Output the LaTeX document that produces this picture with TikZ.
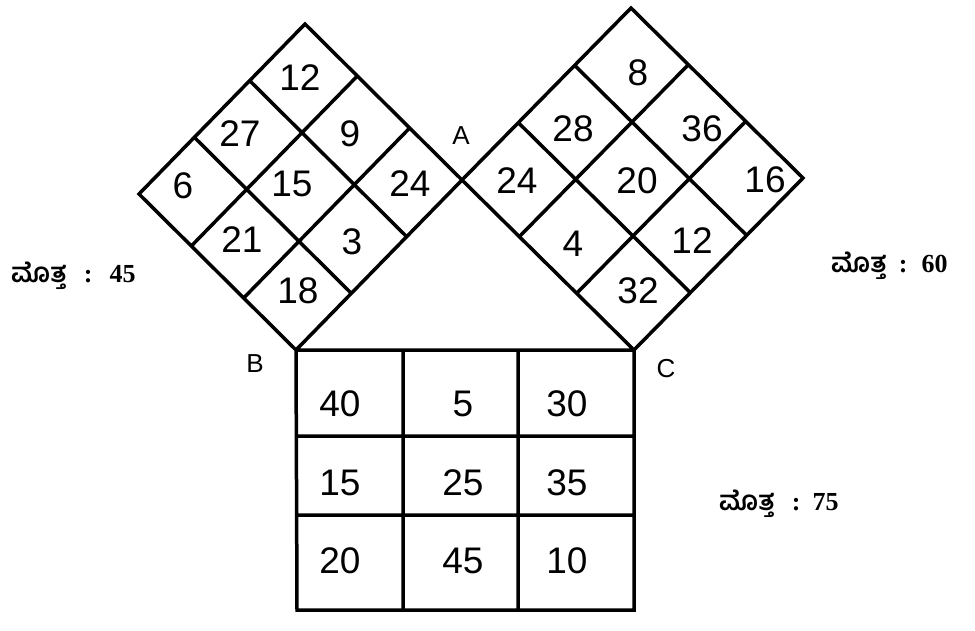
\documentclass[tikz,border=0pt]{standalone}
\usepackage{fontspec}
\setmainfont{Liberation Serif}
\setsansfont{Liberation Sans}
\newfontfamily\kannadafont[Script=Kannada]{Hind Mysuru}
\usetikzlibrary{calc}

\begin{document}
\begin{tikzpicture}[x=1pt, y=-1pt, line width=3.5pt,
    cell/.style={font=\sffamily\fontsize{37}{42}\selectfont, text height=26pt, text depth=0pt},
    vertex/.style={font=\sffamily\fontsize{26}{30}\selectfont},
    total/.style={anchor=base west, font=\bfseries\fontsize{26}{30}\selectfont}]
\useasboundingbox (0,0) rectangle (975,630);
% triangle and the corners of the three squares
\coordinate (A) at (462,180);
\coordinate (B) at (296,350);
\coordinate (C) at (634,350);
\coordinate (T1) at (305,24);
\coordinate (L1) at (139,194);
\coordinate (T2) at (631,8);
\coordinate (R2) at (803,178);
\coordinate (D1) at (297,610);
\coordinate (D2) at (634,610);
\draw
(T1) -- (A) -- (B) -- (L1) -- cycle
($(T1)!1/3!(A)$) -- ($(L1)!1/3!(B)$)
($(T1)!2/3!(A)$) -- ($(L1)!2/3!(B)$)
($(T1)!1/3!(L1)$) -- ($(A)!1/3!(B)$)
($(T1)!2/3!(L1)$) -- ($(A)!2/3!(B)$)
(T2) -- (R2) -- (C) -- (A) -- cycle
($(T2)!1/3!(R2)$) -- ($(A)!1/3!(C)$)
($(T2)!2/3!(R2)$) -- ($(A)!2/3!(C)$)
($(T2)!1/3!(A)$) -- ($(R2)!1/3!(C)$)
($(T2)!2/3!(A)$) -- ($(R2)!2/3!(C)$)
(B) -- (C) -- (D2) -- (D1) -- cycle
(403,350) -- (403,610)
(518,350) -- (518,610)
(296,436) -- (634,436)
(296,515) -- (634,515);
% square on AB
\node[cell] (ab1) at (300,77) {12};
\node[cell] (ab2) at (240,133) {27};
\node[cell] (ab3) at (350,133) {9};
\node[cell] (ab4) at (183,185) {6};
\node[cell] (ab5) at (292,183) {15};
\node[cell] (ab6) at (410,183) {24};
\node[cell] (ab7) at (242,239) {21};
\node[cell] (ab8) at (352,241) {3};
\node[cell] (ab9) at (298,290) {18};
% square on AC
\node[cell] (ac1) at (638,72) {8};
\node[cell] (ac2) at (573,128) {28};
\node[cell] (ac3) at (702,128) {36};
\node[cell] (ac4) at (517,180) {24};
\node[cell] (ac5) at (637,180) {20};
\node[cell] (ac6) at (765,179) {16};
\node[cell] (ac7) at (573,243) {4};
\node[cell] (ac8) at (692,240) {12};
\node[cell] (ac9) at (638,290) {32};
% square on BC
\node[cell] (bc1) at (340,403) {40};
\node[cell] (bc2) at (463,403) {5};
\node[cell] (bc3) at (567,403) {30};
\node[cell] (bc4) at (340,482) {15};
\node[cell] (bc5) at (463,482) {25};
\node[cell] (bc6) at (567,482) {35};
\node[cell] (bc7) at (340,560) {20};
\node[cell] (bc8) at (463,560) {45};
\node[cell] (bc9) at (567,560) {10};
% vertex names and totals
\node[vertex] (nameA) at (461,136) {A};
\node[vertex] (nameB) at (255,364) {B};
\node[vertex] (nameC) at (666,369) {C};
\node[total] (sumAB) at (6,282) {{\kannadafont\fontsize{27}{30}\selectfont ಮೊತ್ತ}\hspace{17pt}:\hspace{17pt}45};
\node[total] (sumAC) at (826,272) {{\kannadafont\fontsize{27}{30}\selectfont ಮೊತ್ತ}\hspace{12pt}:\hspace{14pt}60};
\node[total] (sumBC) at (714,510) {{\kannadafont\fontsize{27}{30}\selectfont ಮೊತ್ತ}\hspace{17pt}:\hspace{12pt}75};
\end{tikzpicture}
\end{document}
